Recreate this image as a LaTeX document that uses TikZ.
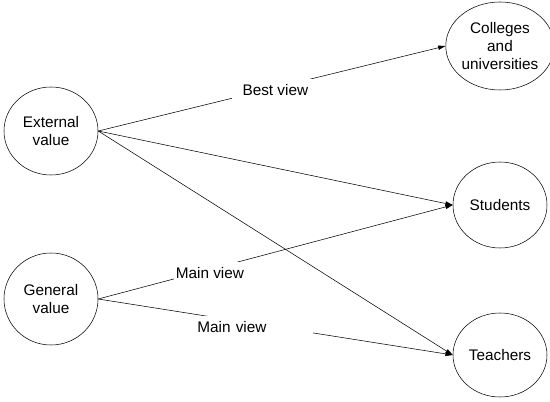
\documentclass[tikz,border=0pt]{standalone}
\usepackage{fontspec}
\setmainfont{Liberation Sans}
\usetikzlibrary{arrows.meta,shapes.geometric}

\begin{document}
\begin{tikzpicture}[
  x=0.75pt,y=-0.75pt,
  v/.style={draw,ellipse,inner sep=0pt,minimum width=94*0.75pt,
    minimum height=88*0.75pt,align=center,font=\fontsize{11.5}{13.5}\selectfont},
  a/.style={-{Triangle[length=5.5pt,width=3.2pt]},thin},
  lbl/.style={fill=white,inner sep=4pt,font=\fontsize{11.5}{13.5}\selectfont}
]
  \useasboundingbox (0,0) rectangle (550,402);
  \node[v] (external) at (51,131) {External\\value};
  \node[v,minimum height=92*0.75pt] (general) at (51,299) {General\\value};
  \node[v] (colleges) at (500,46) {Colleges\\and\\universities};
  \node[v,minimum height=86*0.75pt] (students) at (500,205) {Students};
  \node[v,minimum height=84*0.75pt] (teachers) at (500,355) {Teachers};
  \draw[a] (external.east) -- node[lbl,pos=0.51,inner xsep=8pt,yshift=-2pt]{Best view} (colleges.west);
  \draw[a] (external.east) -- (students.west);
  \draw[a] (external.east) -- (teachers.west);
  \draw[a] (general.east) -- node[lbl,pos=0.315,inner xsep=1.5pt,inner ysep=4.5pt,yshift=-3pt]{Main view} (students.west);
  \draw[a] (general.east) -- node[lbl,pos=0.434,text width=82pt,inner xsep=5pt,yshift=-3pt]{Main view} (teachers.west);
\end{tikzpicture}
\end{document}
